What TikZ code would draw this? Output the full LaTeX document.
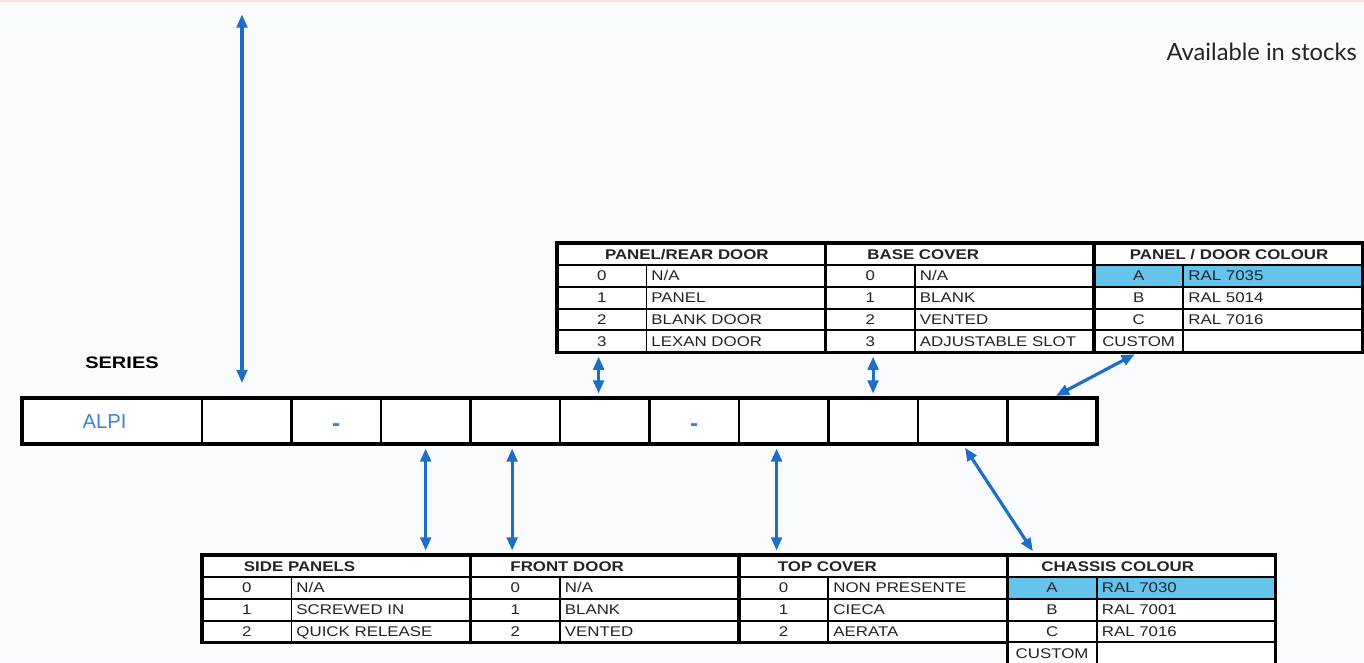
\documentclass[tikz,border=0pt]{standalone}
\usepackage{fontspec}
\setmainfont{Liberation Sans}
\newfontfamily\tabfont[FakeStretch=1.2]{Liberation Sans}
\newfontfamily\stockfont{Lato}
\usepackage{tikz}
\usetikzlibrary{positioning,arrows.meta}
\definecolor{arrowblue}{RGB}{30,110,200}
\definecolor{alpiblue}{RGB}{60,130,220}
\definecolor{rowblue}{RGB}{100,196,236}
\definecolor{bgcol}{RGB}{250,251,254}
\definecolor{ink}{RGB}{35,35,40}

\begin{document}
\begin{tikzpicture}[x=0.02cm,y=-0.02cm,>={Triangle[length=7.5pt,width=6pt]},
  cell/.style={draw,fill=white,line width=1.4pt,minimum width=1.79cm,minimum height=0.92cm,
    inner sep=0pt,outer sep=0pt,text=alpiblue,font=\bfseries\fontsize{14}{14}\selectfont,
    text height=11.4pt,text depth=0pt},
  hdr/.style={draw,fill=white,line width=1pt,minimum width=5.37cm,text width=5.37cm,
    minimum height=0.44cm,inner sep=0pt,outer sep=0pt,align=left,text=ink,
    font=\tabfont\bfseries\fontsize{8}{9}\selectfont,text height=5.8pt,text depth=0pt},
  code/.style={draw,fill=white,line width=1.1pt,minimum width=1.79cm,minimum height=0.436cm,
    inner sep=0pt,outer sep=0pt,text=ink,font=\tabfont\fontsize{8}{9}\selectfont,
    text height=5.8pt,text depth=0pt},
  val/.style={code,minimum width=3.58cm,text width=3.38cm,inner xsep=0.1cm,align=left},
  frame/.style={line width=1.9pt},
  link/.style={<->,line width=1.8pt,arrowblue,shorten <=2.5pt,shorten >=2.5pt}]

  \fill[bgcol] (0,0) rectangle (1364,662);
  \useasboundingbox (0,0) rectangle (1364,662);
  \draw[pink!45,line width=0.6pt] (0,1) -- (1364,1);

  \node[anchor=east,text=ink,font=\stockfont\fontsize{13.5}{15}\selectfont] (stock) at (1363,52) {Available in stocks};
  \node[font=\tabfont\bfseries\fontsize{9.5}{11}\selectfont] (series) at (122,363) {SERIES};

  % code bar
  \node[cell,minimum width=3.6cm,anchor=north west,font=\fontsize{11.5}{13}\selectfont,
    text height=8.3pt] (c1) at (22,398) {ALPI\hspace*{0.3cm}};
  \foreach \t [count=\i from 2,remember=\i as \last (initially 1)] in {{},-,{},{},{},-,{},{},{},{}}
    \node[cell,right=0pt of c\last] (c\i) {\t};
  \draw[line width=2.6pt] (c1.north west) rectangle (c11.south east);

  % upper table
  \node[hdr,anchor=north west] (prdoor) at (557,243) {\hspace*{0.96cm}PANEL/REAR DOOR};
  \node[hdr,right=0pt of prdoor] (basecov) {\hspace*{0.84cm}BASE COVER};
  \node[hdr,right=0pt of basecov] (pdcol) {\hspace*{0.72cm}PANEL / DOOR COLOUR};
  \foreach \c/\v [count=\r from 0] in {0/{N/A},1/PANEL,2/BLANK DOOR,3/LEXAN DOOR}{
    \node[code,anchor=north west] (prdoor-c\r) at ([yshift=-\r*0.436cm]prdoor.south west) {\c};
    \node[val,right=0pt of prdoor-c\r] (prdoor-v\r) {\v};
  }
  \foreach \c/\v [count=\r from 0] in {0/{N/A},1/BLANK,2/VENTED,3/ADJUSTABLE SLOT}{
    \node[code,anchor=north west] (basecov-c\r) at ([yshift=-\r*0.436cm]basecov.south west) {\c};
    \node[val,right=0pt of basecov-c\r] (basecov-v\r) {\v};
  }
  \foreach \c/\v/\f [count=\r from 0] in {A/RAL 7035/rowblue,B/RAL 5014/white,C/RAL 7016/white,CUSTOM/{}/white}{
    \node[code,fill=\f,anchor=north west] (pdcol-c\r) at ([yshift=-\r*0.436cm]pdcol.south west) {\c};
    \node[val,fill=\f,right=0pt of pdcol-c\r] (pdcol-v\r) {\v};
  }
  \draw[frame] (prdoor.north west) rectangle (pdcol-v3.south east);
  \draw[frame] (basecov.north west) -- (basecov-c3.south west);
  \draw[frame] (pdcol.north west) -- (pdcol-c3.south west);

  % lower table
  \node[hdr,anchor=north west] (sidep) at (202,555) {\hspace*{0.84cm}SIDE PANELS};
  \node[hdr,right=0pt of sidep] (frontd) {\hspace*{0.8cm}FRONT DOOR};
  \node[hdr,right=0pt of frontd] (topcov) {\hspace*{0.78cm}TOP COVER};
  \node[hdr,right=0pt of topcov] (chcol) {\hspace*{0.68cm}CHASSIS COLOUR};
  \foreach \c/\v [count=\r from 0] in {0/{N/A},1/SCREWED IN,2/QUICK RELEASE}{
    \node[code,anchor=north west] (sidep-c\r) at ([yshift=-\r*0.436cm]sidep.south west) {\c};
    \node[val,right=0pt of sidep-c\r] (sidep-v\r) {\v};
  }
  \foreach \c/\v [count=\r from 0] in {0/{N/A},1/BLANK,2/VENTED}{
    \node[code,anchor=north west] (frontd-c\r) at ([yshift=-\r*0.436cm]frontd.south west) {\c};
    \node[val,right=0pt of frontd-c\r] (frontd-v\r) {\v};
  }
  \foreach \c/\v [count=\r from 0] in {0/NON PRESENTE,1/CIECA,2/AERATA}{
    \node[code,anchor=north west] (topcov-c\r) at ([yshift=-\r*0.436cm]topcov.south west) {\c};
    \node[val,right=0pt of topcov-c\r] (topcov-v\r) {\v};
  }
  \foreach \c/\v/\f [count=\r from 0] in {A/RAL 7030/rowblue,B/RAL 7001/white,C/RAL 7016/white,CUSTOM/{}/white}{
    \node[code,fill=\f,anchor=north west] (chcol-c\r) at ([yshift=-\r*0.436cm]chcol.south west) {\c};
    \node[val,fill=\f,right=0pt of chcol-c\r] (chcol-v\r) {\v};
  }
  \draw[frame] (sidep.north west) rectangle (topcov-v2.south east);
  \draw[frame] (frontd.north west) -- (frontd-c2.south west);
  \draw[frame] (topcov.north west) -- (topcov-c2.south west);
  \draw[frame] (chcol.north west) rectangle (chcol-v3.south east);

  % arrows
  \coordinate (topend) at (242,10);
  \path[link]
    (topend) edge[shorten >=8.5pt] (topend |- c2.north)
    ([xshift=-0.12cm]c6.north) edge ([xshift=-0.12cm]c6.north |- prdoor-c3.south)
    (c9.north) edge (c9.north |- basecov-c3.south)
    (c11.north) edge (pdcol-c3.south)
    (c4.south) edge (c4.south |- sidep.north)
    ([xshift=-0.06cm]c5.south) edge ([xshift=-0.06cm]c5.south |- frontd.north)
    ([xshift=-0.14cm]c8.south) edge ([xshift=-0.14cm]c8.south |- topcov.north)
    (c10.south) edge ([xshift=0.56cm]chcol.north west);
\end{tikzpicture}
\end{document}
